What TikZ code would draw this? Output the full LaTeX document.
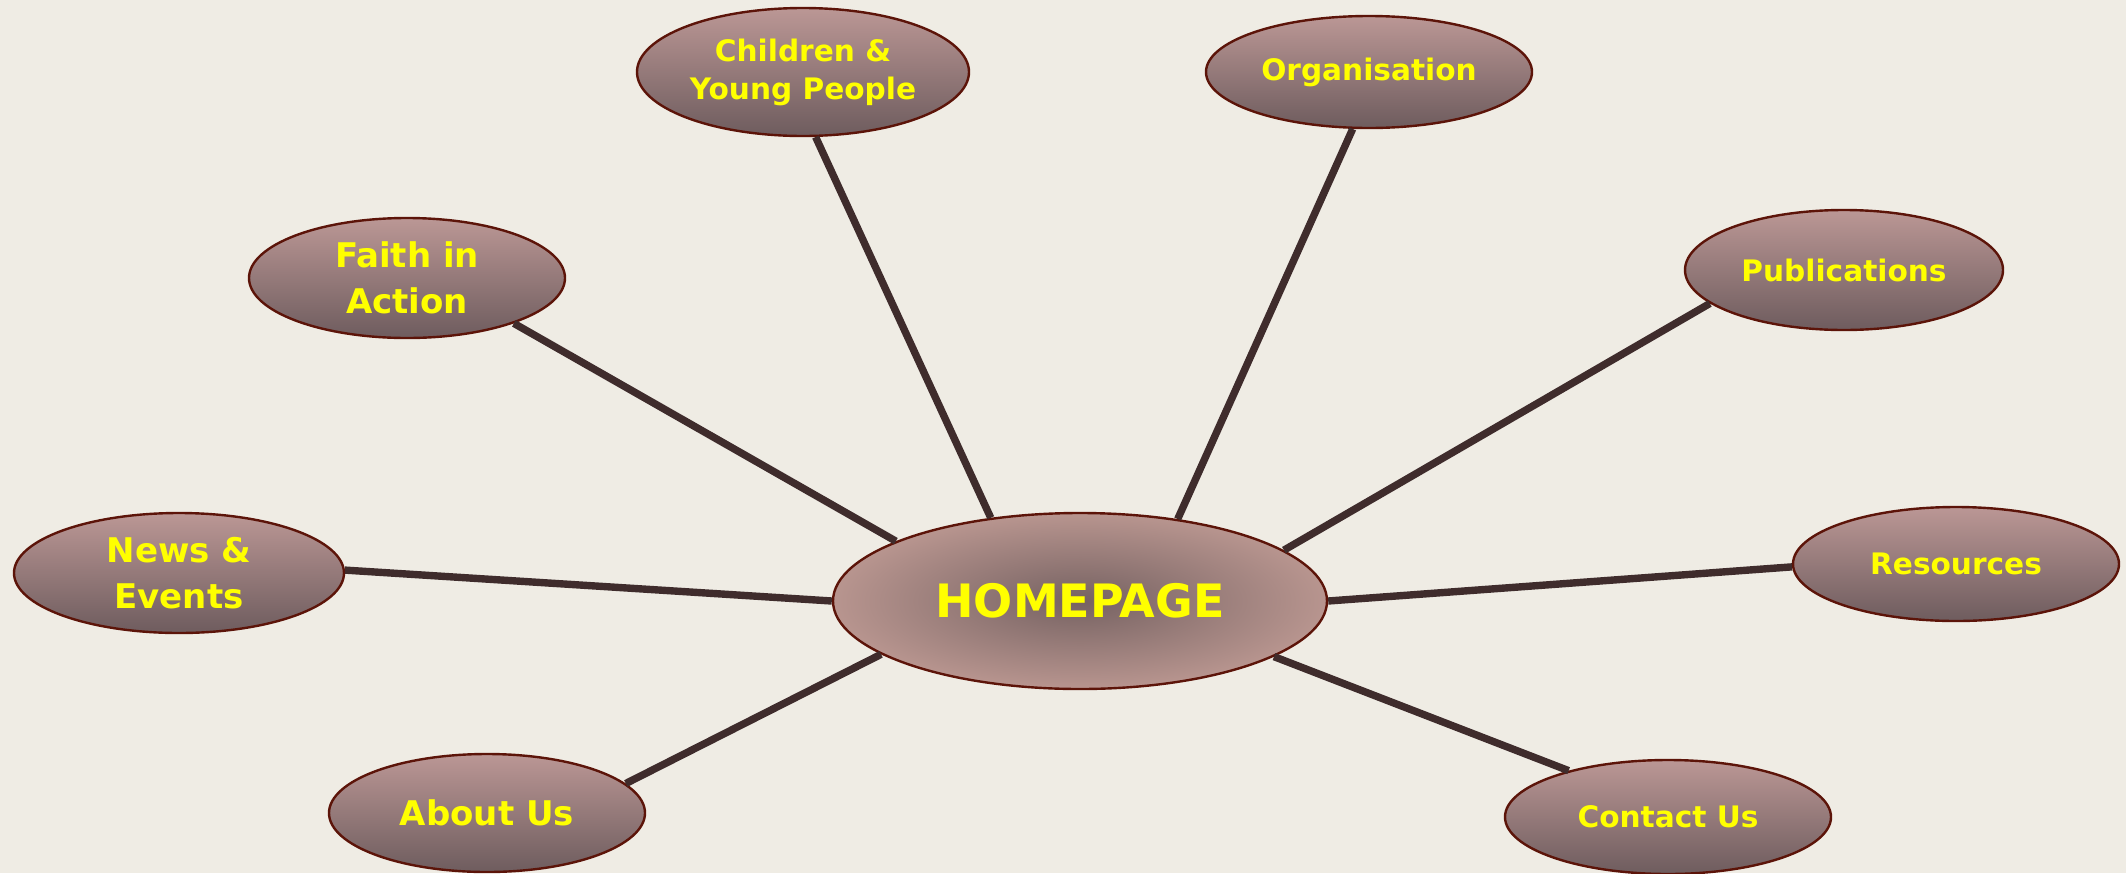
\documentclass[tikz,border=0pt]{standalone}
\usepackage{fontspec}
\setmainfont{DejaVu Sans}
\usetikzlibrary{shapes.geometric}
\definecolor{bgc}{HTML}{EFECE4}
\definecolor{linec}{HTML}{3F2C2C}
\definecolor{borderc}{HTML}{5C1409}
\definecolor{toppink}{HTML}{BB9795}
\definecolor{botbrown}{HTML}{6E5C5E}
\definecolor{homein}{HTML}{766262}
\definecolor{homeout}{HTML}{B8958F}
\definecolor{txt}{HTML}{FFFF00}
\tikzset{
  leaf/.style={ellipse, draw=borderc, line width=1.2pt, inner sep=0pt,
    top color=toppink, bottom color=botbrown, text=txt, align=center,
    font=\bfseries},
  hub/.style={ellipse, draw=borderc, line width=1.2pt, inner sep=0pt,
    inner color=homein, outer color=homeout, text=txt, align=center,
    font=\bfseries\fontsize{23pt}{27pt}\selectfont},
  big/.style={font=\bfseries\fontsize{17pt}{23pt}\selectfont},
  small/.style={font=\bfseries\fontsize{14.8pt}{19pt}\selectfont},
  link/.style={draw=linec, line width=3.7pt}
}
\begin{document}
\begin{tikzpicture}[x=0.5pt,y=-0.5pt]
\path[fill=bgc] (0,0) rectangle (2126,873);
\useasboundingbox (0,0) rectangle (2126,873);
\node[hub, minimum width=247pt, minimum height=88pt] (home) at (1080,601) {HOMEPAGE};
\node[leaf, small, minimum width=166pt, minimum height=64pt] (child) at (803,72) {Children \&\\Young People};
\node[leaf, small, minimum width=163pt, minimum height=56pt] (org) at (1369,72) {Organisation};
\node[leaf, big, minimum width=158pt, minimum height=60pt] (faith) at (407,278) {Faith in\\Action};
\node[leaf, small, minimum width=159pt, minimum height=60pt] (pub) at (1844,270) {Publications};
\node[leaf, big, minimum width=165pt, minimum height=60pt] (news) at (179,573) {News \&\\Events};
\node[leaf, small, minimum width=163pt, minimum height=57pt] (res) at (1956,564) {Resources};
\node[leaf, big, minimum width=158pt, minimum height=59pt] (about) at (487,813) {About Us};
\node[leaf, small, minimum width=163pt, minimum height=57pt] (contact) at (1668,817) {Contact Us};
\draw[link] (child.281.5) -- (home.137);
\draw[link] (org.254.3) -- (home.40.5);
\draw[link] (faith.337) -- (home.162.9);
\draw[link] (pub.194.4) -- (home.14.9);
\draw[link] (news.1.4) -- (home.180);
\draw[link] (res.181.8) -- (home.0);
\draw[link] (about.12.5) -- (home.195.1);
\draw[link] (contact.155.6) -- (home.344);
\end{tikzpicture}
\end{document}
